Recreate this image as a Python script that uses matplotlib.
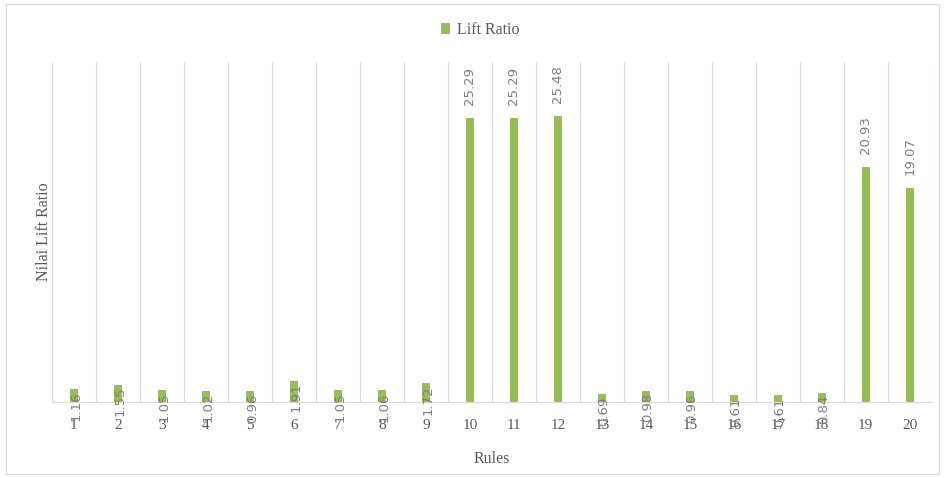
import matplotlib
matplotlib.use("Agg")
from matplotlib import pyplot as plt
from matplotlib.patches import Rectangle

rules = [str(i) for i in range(1, 21)]
lift = [1.16, 1.55, 1.05, 1.02, 0.96, 1.91, 1.05, 1.06, 1.72, 25.29,
        25.29, 25.48, 0.69, 0.98, 0.96, 0.61, 0.61, 0.84, 20.93, 19.07]

green = '#9bbb59'
grey = '#595959'

fig = plt.figure(figsize=(9.45, 4.78), dpi=100)
ax = fig.add_axes([0.055, 0.159, 0.931, 0.711])

pos = list(range(1, len(rules) + 1))
bars = ax.bar(pos, lift, width=0.18, color=green, label='Lift Ratio', zorder=3)

ax.set_xlim(0.5, 20.5)
ax.set_ylim(0, 30.3)
ax.set_xticks(pos)
ax.set_xticklabels(rules, fontsize=11, color=grey, family='Liberation Serif')
ax.set_xticks([p + 0.5 for p in range(0, 21)], minor=True)
ax.grid(True, axis='x', which='minor', color='#d9d9d9', linewidth=0.8, zorder=0)
ax.tick_params(axis='x', which='both', length=0, pad=12)
ax.set_yticks([])
for s in ['top', 'right', 'left']:
    ax.spines[s].set_visible(False)
ax.spines['bottom'].set_color('#d9d9d9')

for p, v in zip(pos, lift):
    if v > 10:
        ax.text(p, v + 1.2, '%.2f' % v, rotation=90, ha='center', va='bottom',
                fontsize=9.5, color='#7f7f7f')
    else:
        ax.text(p + 0.05, v - 0.2, '%.2f' % v, rotation=90, ha='center', va='top',
                fontsize=9.5, color='#7f7f7f', zorder=4)

ax.set_xlabel('Rules', fontsize=11.5, color=grey, family='Liberation Serif', labelpad=14)
ax.set_ylabel('Nilai Lift Ratio', fontsize=11.5, color=grey, family='Liberation Serif', labelpad=0)

fig.legend(handles=[bars], loc='center', bbox_to_anchor=(0.508, 0.937), frameon=False,
           handlelength=0.6, handleheight=0.6, handletextpad=0.4,
           prop={'family': 'Liberation Serif', 'size': 11.5}, labelcolor=grey)

fig.patches.append(Rectangle((0.006, 0.008), 0.988, 0.984, transform=fig.transFigure,
                             fill=False, edgecolor='#d9d9d9', linewidth=0.8))

fig.savefig('out.png', dpi=100)
